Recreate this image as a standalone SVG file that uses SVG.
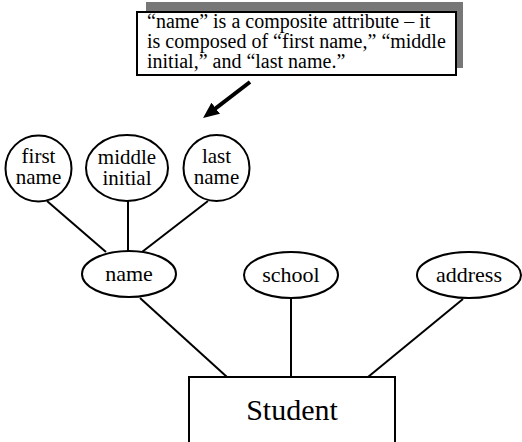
<svg xmlns="http://www.w3.org/2000/svg" width="522" height="442" viewBox="0 0 522 442" font-family="Liberation Serif, serif">
<style>
.attr{fill:#fff;stroke:#000;stroke-width:2}
.lbl{font-size:21px;fill:#000;text-anchor:middle}
.conn line{stroke:#000;stroke-width:2}
.note{font-size:20px;fill:#000}
</style>
<defs>
<marker id="ah" viewBox="0 0 16 14" refX="8" refY="7" markerWidth="4" markerHeight="3.5" orient="auto" markerUnits="strokeWidth">
<path d="M0,0 L16,7 L0,14 Z" fill="#000"/>
</marker>
</defs>
<rect width="522" height="442" fill="#fff"/>
<g id="callout">
<rect x="146" y="2" width="317" height="66" fill="#777"/>
<rect x="137" y="12" width="319" height="63" fill="#fff" stroke="#000" stroke-width="2"/>
<text class="note" x="147" y="28">“name” is a composite attribute – it</text>
<text class="note" x="147" y="48">is composed of “first name,” “middle</text>
<text class="note" x="147" y="68">initial,” and “last name.”</text>
</g>
<g class="conn" id="connectors">
<line x1="250" y1="82" x2="209.4" y2="113.1" style="stroke-width:4" marker-end="url(#ah)"/>
<line x1="47" y1="201" x2="106" y2="252"/>
<line x1="128" y1="201" x2="128" y2="252"/>
<line x1="208" y1="201" x2="142" y2="252"/>
<line x1="140" y1="298" x2="227" y2="377"/>
<line x1="291" y1="299" x2="291" y2="377"/>
<line x1="463" y1="299" x2="368" y2="377"/>
</g>
<g id="first-name">
<ellipse class="attr" cx="38.5" cy="168.5" rx="33" ry="33"/>
<text class="lbl" x="38.5" y="163">first</text>
<text class="lbl" x="38.5" y="184">name</text>
</g>
<g id="middle-initial">
<ellipse class="attr" cx="127" cy="168" rx="41" ry="33"/>
<text class="lbl" x="127" y="164">middle</text>
<text class="lbl" x="127" y="185">initial</text>
</g>
<g id="last-name">
<ellipse class="attr" cx="216.5" cy="168" rx="33" ry="33"/>
<text class="lbl" x="216.5" y="163">last</text>
<text class="lbl" x="216.5" y="184">name</text>
</g>
<g id="name">
<ellipse class="attr" cx="129" cy="274" rx="47" ry="23"/>
<text class="lbl" x="129" y="281" style="font-size:22px">name</text>
</g>
<g id="school">
<ellipse class="attr" cx="291" cy="275" rx="47" ry="23"/>
<text class="lbl" x="291" y="282" style="font-size:22px">school</text>
</g>
<g id="address">
<ellipse class="attr" cx="469" cy="275" rx="52" ry="23"/>
<text class="lbl" x="469" y="282" style="font-size:22px">address</text>
</g>
<g id="student">
<rect x="189" y="377" width="206" height="80" fill="#fff" stroke="#000" stroke-width="2"/>
<text class="lbl" x="292" y="420" style="font-size:30px">Student</text>
</g>
</svg>
